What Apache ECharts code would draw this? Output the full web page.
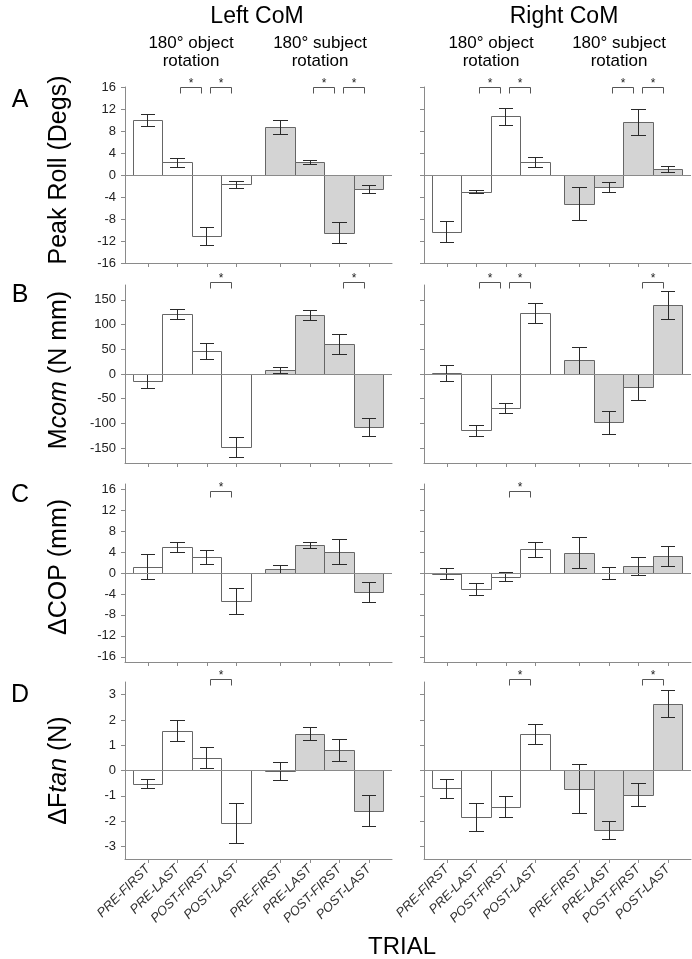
<!DOCTYPE html>
<html><head><meta charset="utf-8">
<script src="https://cdn.jsdelivr.net/npm/echarts@6/dist/echarts.min.js"></script>
<style>html,body{margin:0;padding:0;background:#fff}#c{width:692px;height:959px}</style>
</head><body><div id="c"></div>
<script>
// ---------- DATA ----------
const trialLabels = ['PRE-FIRST', 'PRE-LAST', 'POST-FIRST', 'POST-LAST'];
const conditionLabels = ['180\u00b0 object\nrotation', '180\u00b0 subject\nrotation'];
const sideLabels = ['Left CoM', 'Right CoM'];
const panelLetters = ['A', 'B', 'C', 'D'];
const xTitle = 'TRIAL';

// 8 values each: object rotation (4 trials) then subject rotation (4 trials)
const rollLeftMean  = [9.9, 2.2, -11.2, -1.8, 8.6, 2.2, -10.6, -2.7];
const rollLeftSE    = [1.1, 0.75, 1.6, 0.65, 1.25, 0.35, 1.9, 0.75];
const rollRightMean = [-10.4, -3.1, 10.6, 2.2, -5.3, -2.3, 9.6, 1.0];
const rollRightSE   = [1.9, 0.35, 1.55, 0.9, 3.05, 0.85, 2.35, 0.63];

const mcomLeftMean  = [-15, 120, 46, -148, 8, 118, 59, -109];
const mcomLeftSE    = [13.5, 10, 16, 20, 6, 9.5, 20.5, 18];
const mcomRightMean = [1, -115, -70, 123, 27, -99, -28, 138];
const mcomRightSE   = [16, 11.7, 10.7, 20, 27, 23, 26, 28];

const copLeftMean   = [1.1, 4.9, 2.9, -5.4, 0.6, 5.2, 4.0, -3.8];
const copLeftSE     = [2.35, 1.0, 1.35, 2.45, 0.75, 0.6, 2.4, 1.9];
const copRightMean  = [-0.2, -3.1, -0.8, 4.4, 3.8, -0.1, 1.2, 3.1];
const copRightSE    = [1.05, 1.15, 0.85, 1.35, 2.95, 1.1, 1.7, 1.9];

const ftanLeftMean  = [-0.54, 1.56, 0.49, -2.09, -0.03, 1.44, 0.78, -1.61];
const ftanLeftSE    = [0.17, 0.41, 0.4, 0.78, 0.35, 0.25, 0.44, 0.62];
const ftanRightMean = [-0.73, -1.86, -1.45, 1.41, -0.75, -2.37, -0.98, 2.62];
const ftanRightSE   = [0.39, 0.57, 0.41, 0.4, 0.97, 0.36, 0.45, 0.54];

// significant pairs (bar indices)
const rollLeftSig  = [[1, 2], [2, 3], [5, 6], [6, 7]];
const rollRightSig = [[1, 2], [2, 3], [5, 6], [6, 7]];
const mcomLeftSig  = [[2, 3], [6, 7]];
const mcomRightSig = [[1, 2], [2, 3], [6, 7]];
const copLeftSig   = [[2, 3]];
const copRightSig  = [[2, 3]];
const ftanLeftSig  = [[2, 3]];
const ftanRightSig = [[2, 3], [6, 7]];

// tick labels
const rollTicks = [-16, -12, -8, -4, 0, 4, 8, 12, 16];
const mcomTicks = [-150, -100, -50, 0, 50, 100, 150];
const copTicks  = [-16, -12, -8, -4, 0, 4, 8, 12, 16];
const ftanTicks = [-3, -2, -1, 0, 1, 2, 3];

// ---------- LAYOUT ----------
const FONT = '"Liberation Sans", Arial, Helvetica, sans-serif';
const gridTops = [87, 285, 484, 682];
const gridHeights = [176, 178, 178, 177];
const gridLefts = [125, 424];
const gridWidth = 267;
const namePads = [10, 8, 12, 0];

const panels = [
  { name: 'Peak Roll (Degs)', ticks: rollTicks, min: -16, max: 16, sigY: 16,
    sides: [[rollLeftMean, rollLeftSE, rollLeftSig], [rollRightMean, rollRightSE, rollRightSig]] },
  { name: 'M{i|com} (N mm)', ticks: mcomTicks, min: -180, max: 180, sigY: 185,
    sides: [[mcomLeftMean, mcomLeftSE, mcomLeftSig], [mcomRightMean, mcomRightSE, mcomRightSig]] },
  { name: '\u0394COP (mm)', ticks: copTicks, min: -17, max: 17, sigY: 15.5,
    sides: [[copLeftMean, copLeftSE, copLeftSig], [copRightMean, copRightSE, copRightSig]] },
  { name: '\u0394F{i|tan} (N)', ticks: ftanTicks, min: -3.5, max: 3.5, sigY: 3.61,
    sides: [[ftanLeftMean, ftanLeftSE, ftanLeftSig], [ftanRightMean, ftanRightSE, ftanRightSig]] }
];

function slotPos(i) { return i + (i >= 4 ? 0.5 : 0); }
const positions = [0, 1, 2, 3, 4, 5, 6, 7].map(slotPos);
function labelAt(v) {
  for (let i = 0; i < positions.length; i++) if (Math.abs(positions[i] - v) < 0.01) return trialLabels[i % 4];
  return '';
}
function crisp(v) { return Math.round(v - 0.5) + 0.5; }

function renderBar(params, api) {
  const x = api.value(0), m = api.value(1), se = api.value(2), g = api.value(3);
  const a = api.coord([x - 0.5, 0]), b = api.coord([x + 0.5, m]);
  const top = api.coord([x, m + se]), bot = api.coord([x, m - se]);
  const cl = api.coord([x - 0.25, m])[0], cr = api.coord([x + 0.25, m])[0];
  const x0 = crisp(a[0]), x1 = crisp(b[0]);
  const y0 = crisp(Math.min(a[1], b[1])), y1 = crisp(Math.max(a[1], b[1]));
  const cx = crisp(top[0]);
  const ty = crisp(top[1]), by = crisp(bot[1]);
  const es = { stroke: '#2a2a2a', lineWidth: 1 };
  return { type: 'group', children: [
    { type: 'rect', shape: { x: x0, y: y0, width: x1 - x0, height: y1 - y0 },
      style: { fill: g ? '#d4d4d4' : '#ffffff', stroke: '#666666', lineWidth: 1 } },
    { type: 'line', shape: { x1: cx, y1: ty, x2: cx, y2: by }, style: es },
    { type: 'line', shape: { x1: Math.round(cl), y1: ty, x2: Math.round(cr), y2: ty }, style: es },
    { type: 'line', shape: { x1: Math.round(cl), y1: by, x2: Math.round(cr), y2: by }, style: es }
  ] };
}

function renderSig(params, api) {
  const p1 = api.coord([api.value(0), api.value(2)]);
  const p2 = api.coord([api.value(1), api.value(2)]);
  const y = crisp(p1[1]), xa = crisp(p1[0]), xb = crisp(p2[0]);
  return { type: 'group', children: [
    { type: 'polyline', shape: { points: [[xa, y + 6], [xa, y], [xb, y], [xb, y + 6]] },
      style: { stroke: '#555', lineWidth: 1, fill: null } },
    { type: 'text', x: (xa + xb) / 2, y: y - 3.5,
      style: { text: '*', fontSize: 12, fontFamily: FONT, fill: '#222', align: 'center', verticalAlign: 'middle',
               textAlign: 'center', textVerticalAlign: 'middle' } }
  ] };
}

const grids = [], xAxes = [], yAxes = [], series = [];
panels.forEach((p, r) => {
  [0, 1].forEach(s => {
    const idx = grids.length;
    grids.push({ left: gridLefts[s], top: gridTops[r], width: gridWidth, height: gridHeights[r],
                 containLabel: false, outerBoundsMode: 'none' });
    xAxes.push({
      gridIndex: idx, type: 'value', min: -0.78, max: 8.28,
      splitLine: { show: false },
      axisLine: { show: true, onZero: false, lineStyle: { color: '#8a8a8a', width: 1 } },
      axisTick: { show: true, customValues: positions, length: 4, lineStyle: { color: '#8a8a8a' } },
      axisLabel: { show: r === 3, customValues: positions, formatter: labelAt, rotate: 45,
                   fontStyle: 'italic', fontSize: 13, fontFamily: FONT, color: '#333', margin: 8 }
    });
    const ya = {
      gridIndex: idx, type: 'value', min: p.min, max: p.max,
      splitLine: { show: false },
      axisLine: { show: true, onZero: false, lineStyle: { color: '#8a8a8a', width: 1 } },
      axisTick: { show: true, customValues: p.ticks, length: 4, lineStyle: { color: '#8a8a8a' } },
      axisLabel: { show: s === 0, customValues: p.ticks, fontSize: 13, fontFamily: FONT, color: '#222', margin: 9 }
    };
    if (s === 0) {
      Object.assign(ya, {
        name: p.name, nameLocation: 'middle', nameGap: 53, nameRotate: 90,
        nameTextStyle: { fontSize: 25, fontFamily: FONT, color: '#000', padding: [0, 0, 0, namePads[r]],
          rich: { i: { fontSize: 25, fontFamily: FONT, fontStyle: 'italic', color: '#000' } } }
      });
    }
    yAxes.push(ya);
    const [mean, se, sig] = p.sides[s];
    series.push({
      type: 'custom', xAxisIndex: idx, yAxisIndex: idx, z: 2, clip: false,
      renderItem: renderBar, encode: { x: 0, y: 1 },
      data: mean.map((m, i) => [slotPos(i), m, se[i], i >= 4 ? 1 : 0])
    });
    series.push({
      type: 'custom', xAxisIndex: idx, yAxisIndex: idx, z: 3, clip: false,
      renderItem: renderSig, encode: { x: [0, 1], y: 2 },
      data: sig.map(([a, b]) => [slotPos(a) + 0.12, slotPos(b) - 0.17, p.sigY]),
      markLine: { silent: true, symbol: ['none', 'none'], label: { show: false },
                  lineStyle: { color: '#8a8a8a', type: 'solid', width: 1 },
                  emphasis: { disabled: true }, animation: false,
                  data: [{ yAxis: 0 }] }
    });
  });
});

function txt(text, x, y, size, extra) {
  return Object.assign({ type: 'text', x: x, y: y, silent: true,
    style: Object.assign({ text: text, fontSize: size, fontFamily: FONT, fill: '#000',
      align: 'center', verticalAlign: 'middle', textAlign: 'center', textVerticalAlign: 'middle' }, extra || {}) });
}
const graphics = [
  txt(sideLabels[0], 257, 17, 23), txt(sideLabels[1], 564, 17, 23),
  txt(conditionLabels[0], 191, 52, 17, { lineHeight: 18 }),
  txt(conditionLabels[1], 320, 52, 17, { lineHeight: 18 }),
  txt(conditionLabels[0], 491, 52, 17, { lineHeight: 18 }),
  txt(conditionLabels[1], 619, 52, 17, { lineHeight: 18 }),
  txt(panelLetters[0], 20, 100, 25), txt(panelLetters[1], 20, 295, 25),
  txt(panelLetters[2], 20, 495, 25), txt(panelLetters[3], 20, 695, 25),
  txt(xTitle, 402, 947, 24)
];

const chart = echarts.init(document.getElementById('c'), null, { renderer: 'canvas' });
chart.setOption({
  animation: false, backgroundColor: '#fff',
  grid: grids, xAxis: xAxes, yAxis: yAxes, series: series,
  graphic: { elements: graphics }
});
</script></body></html>
